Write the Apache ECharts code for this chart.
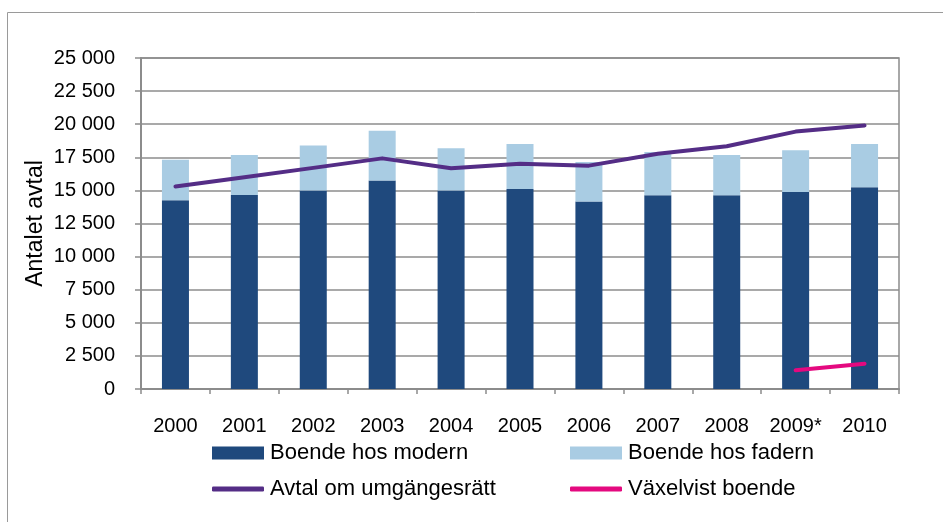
<!DOCTYPE html>
<html>
<head>
<meta charset="utf-8">
<script src="https://cdn.jsdelivr.net/npm/echarts@6/dist/echarts.min.js"></script>
<style>
html, body { margin: 0; padding: 0; background: #fff; }
#chart { width: 943px; height: 522px; }
</style>
</head>
<body>
<div id="chart"></div>
<script>
// år på x-axeln
var years = ['2000', '2001', '2002', '2003', '2004', '2005', '2006', '2007', '2008', '2009*', '2010']
// Boende hos modern
var modern = [14250, 14650, 15000, 15750, 15000, 15100, 14170, 14630, 14630, 14880, 15230]
// Boende hos fadern (staplas ovanpå)
var fadern = [3070, 3020, 3400, 3750, 3180, 3400, 2980, 3270, 3040, 3150, 3270]
// Avtal om umgängesrätt
var umgange = [15300, 16000, 16700, 17420, 16670, 17020, 16870, 17770, 18330, 19440, 19910]
// Växelvist boende, bara 2009* och 2010
var vaxelvist = [null, null, null, null, null, null, null, null, null, 1410, 1910]

var yMax = 25000
var yStep = 2500

var font = "'Liberation Sans', Arial, sans-serif"
var gray = '#8c8c8c'

function fmt(v) {
	return String(v).replace(/\B(?=(\d{3})+(?!\d))/g, ' ')
}

function legendItem(name, left, top, isLine) {
	return {
		data: [name],
		left: left,
		top: top,
		padding: 0,
		itemWidth: 52,
		itemHeight: isLine ? 5 : 13,
		icon: isLine ? 'roundRect' : 'rect',
		selectedMode: false,
		textStyle: { fontFamily: font, fontSize: 22, color: '#000', padding: [0, 0, 0, 1] },
	}
}

var chart = echarts.init(document.getElementById('chart'))
chart.setOption({
	animation: false,
	grid: {
		left: 141,
		right: 44,
		top: 58,
		bottom: 133,
		show: true,
		borderColor: gray,
		borderWidth: 1.5,
	},
	graphic: [
		{
			type: 'rect',
			silent: true,
			shape: { x: 7.5, y: 12.5, width: 1000, height: 600 },
			style: { fill: 'none', stroke: '#9a9a9a', lineWidth: 1 },
		},
	],
	legend: [
		legendItem('Boende hos modern', 212, 442, false),
		legendItem('Boende hos fadern', 570, 442, false),
		legendItem('Avtal om umgängesrätt', 212, 478, true),
		legendItem('Växelvist boende', 570, 478, true),
	],
	xAxis: {
		type: 'category',
		data: years,
		axisLine: { lineStyle: { color: gray, width: 2 } },
		axisTick: { show: true, length: 5, lineStyle: { color: gray, width: 1.5 } },
		axisLabel: { margin: 27, fontFamily: font, fontSize: 20, color: '#000' },
	},
	yAxis: {
		type: 'value',
		min: 0,
		max: yMax,
		interval: yStep,
		name: 'Antalet avtal',
		nameLocation: 'middle',
		nameGap: 94,
		nameMoveOverlap: false,
		nameTextStyle: { fontFamily: font, fontSize: 23, color: '#000' },
		axisLine: { show: true, lineStyle: { color: gray, width: 2 } },
		axisTick: { show: true, length: 6, lineStyle: { color: gray, width: 1.5 } },
		axisLabel: { margin: 26, fontFamily: font, fontSize: 20, color: '#000', formatter: fmt },
		splitLine: { lineStyle: { color: gray, width: 1.5 } },
	},
	series: [
		{
			name: 'Boende hos modern',
			type: 'bar',
			stack: 'boende',
			barWidth: 27,
			data: modern,
			itemStyle: { color: '#1f497d' },
		},
		{
			name: 'Boende hos fadern',
			type: 'bar',
			stack: 'boende',
			barWidth: 27,
			data: fadern,
			itemStyle: { color: '#a9cce3' },
		},
		{
			name: 'Avtal om umgängesrätt',
			type: 'line',
			data: umgange,
			symbol: 'none',
			itemStyle: { color: '#542d86' },
			lineStyle: { color: '#542d86', width: 4, cap: 'round', join: 'round' },
		},
		{
			name: 'Växelvist boende',
			type: 'line',
			data: vaxelvist,
			symbol: 'none',
			itemStyle: { color: '#e4097f' },
			lineStyle: { color: '#e4097f', width: 4, cap: 'round' },
		},
	],
})
</script>
</body>
</html>
